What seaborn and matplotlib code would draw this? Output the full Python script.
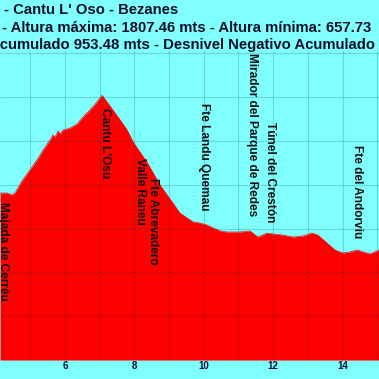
import matplotlib
matplotlib.use("Agg")
import matplotlib.pyplot as plt
import seaborn as sns
import pandas as pd

# profile (km, metres) - visible part of the route
km = [4.13, 4.33, 4.47, 4.56, 4.76, 4.99, 5.19, 5.37, 5.57, 5.65, 5.71, 5.80, 5.86,
      5.94, 6.14, 6.35, 6.52, 6.72, 6.92, 7.07, 7.21, 7.38, 7.59, 7.79, 7.96, 8.16,
      8.36, 8.54, 8.74, 8.94, 9.11, 9.31, 9.52, 9.69, 9.89, 10.09, 10.27, 10.47,
      10.67, 11.04, 11.33, 11.56, 11.82, 12.00, 12.28, 12.57, 12.86, 13.12, 13.29,
      13.55, 13.78, 14.01, 14.21, 14.42, 14.59, 14.79, 14.93, 15.05]
elev = [1362, 1362, 1353, 1362, 1417, 1467, 1512, 1558, 1604, 1626, 1617, 1645, 1631,
        1649, 1658, 1677, 1709, 1741, 1777, 1807.46, 1777, 1741, 1695, 1649, 1595, 1549,
        1503, 1453, 1398, 1353, 1316, 1271, 1248, 1230, 1225, 1216, 1202, 1189,
        1184, 1184, 1189, 1161, 1179, 1175, 1170, 1161, 1166, 1179, 1170,
        1134, 1102, 1088, 1093, 1102, 1093, 1084, 1093, 1102]

tick_km = [6, 8, 10, 12, 14]

waypoints = ["Majada de Cerréu", "Cantu L'Osu", "Valle Raneu", "Fte Abrevadero",
             "Fte Landu Quemau", "Mirador del Parque de Redes", "Túnel del Crestón",
             "Fte del Andorviu"]
wp_km = [4.21, 7.15, 8.15, 8.54, 10.0, 11.39, 11.91, 14.42]
wp_top = [1321, 1750, 1522, 1430, 1772, 2000, 1686, 1581]

title1 = "- Cantu L' Oso - Bezanes"
title2 = "- Altura máxima: 1807.46 mts - Altura mínima: 657.73"
title3 = "Acumulado 953.48 mts - Desnivel Negativo Acumulado"

df = pd.DataFrame({"km": km, "elev": elev})

sns.set_theme(style="white")
plt.rcParams['font.family'] = ['Liberation Sans', 'DejaVu Sans']

bg = '#80ffff'
fig = plt.figure(figsize=(3.79, 3.79), dpi=100, facecolor=bg)
ax = fig.add_axes([0, 19 / 379, 1, (360 - 51) / 379])
ax.set_facecolor(bg)

ax.fill_between(df["km"], df["elev"], 600, color='#ff0000', linewidth=0, zorder=1)
sns.lineplot(data=df, x="km", y="elev", color='#f80000', linewidth=0.5, ax=ax, zorder=2)

ax.set_xlim(4.127, 15.05)
ax.set_ylim(600, 2010)
ax.set_xticks(tick_km)
ax.set_xticks(range(5, 16), minor=True)
ax.set_yticks(range(600, 2001, 200))
ax.set_axisbelow(False)
ax.grid(which='both', color='#004050', alpha=0.2, linewidth=0.8, zorder=3)
ax.tick_params(axis='x', which='both', length=0, pad=1, labelsize=7, labelcolor='#101030')
ax.tick_params(axis='y', which='both', length=0, labelleft=False)
for lab in ax.get_xticklabels():
    lab.set_fontweight('bold')
ax.set_xlabel('')
ax.set_ylabel('')
for s in ax.spines.values():
    s.set_visible(False)

for name, k, top in zip(waypoints, wp_km, wp_top):
    ax.text(k, top, name, rotation=270, ha='center', va='top', fontsize=8.6,
            fontweight='bold', color='#111111', zorder=4)

tkw = dict(fontsize=10.7, fontweight='bold', color='#101028', va='center')
fig.text(178 / 379, 1 - 10 / 379, title1, ha='right', **tkw)
fig.text(2 / 379, 1 - 28 / 379, title2, ha='left', **tkw)
fig.text(-11 / 379, 1 - 45 / 379, title3, ha='left', **tkw)

fig.savefig('out.png', dpi=100, facecolor=bg)
